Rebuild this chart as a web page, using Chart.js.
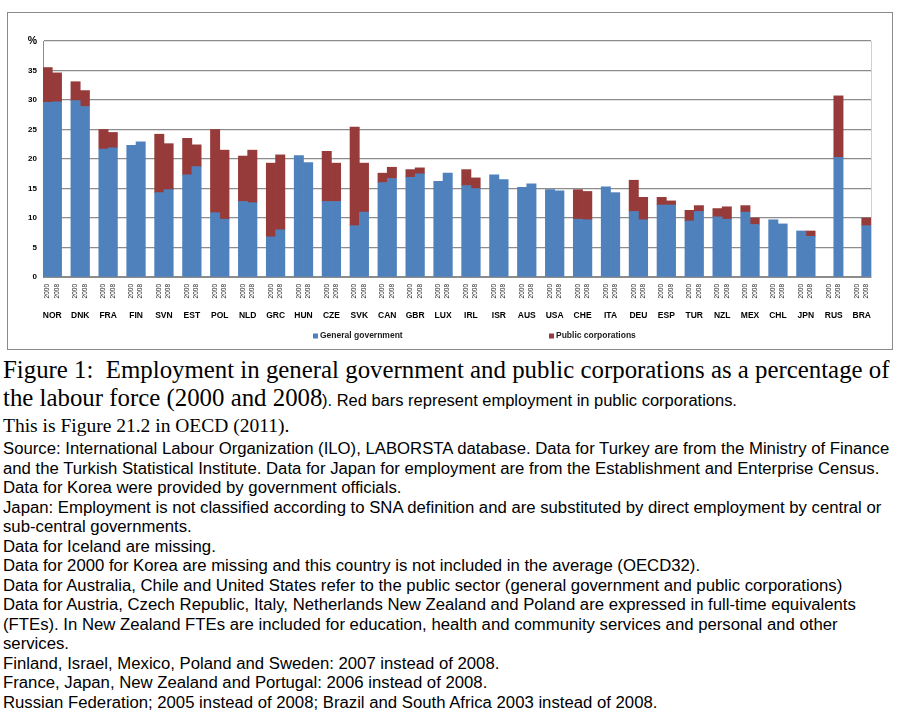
<!DOCTYPE html>
<html lang="en">
<head>
  <meta charset="UTF-8">
  <title>Employment in general government and public corporations</title>
  <script src="https://cdn.jsdelivr.net/npm/chart.js"></script>
  <style>
    body {
      margin: 0;
      background: #fff;
      width: 900px;
      height: 723px;
      position: relative;
      overflow: hidden;
    }

    .chart-box {
      position: absolute;
      left: 7px;
      top: 12px;
      width: 884px;
      height: 336px;
      border: 1px solid #8a8a8a;
    }

    .caption {
      position: absolute;
      left: 3px;
      top: 356px;
      white-space: nowrap;
      color: #000;
    }

    .serif {
      font-family: "Liberation Serif", "Times New Roman", serif;
    }

    .sans {
      font-family: "Liberation Sans", Arial, sans-serif;
    }

    .big { font-size: 24.85px; line-height: 28px; }
    .mid { font-size: 19.5px; line-height: 22px; }
    .inline-note { font-size: 16px; display: inline-block; transform: scaleX(1.03); transform-origin: left; }
    .note {
      font-size: 16px;
      line-height: 19.5px;
      margin-top: 2px;
      transform: scaleX(1.045);
      transform-origin: left top;
    }
  </style>
</head>
<body>
  <div class="chart-box">
    <canvas id="govChart"></canvas>
  </div>

  <div class="caption">
    <div class="serif big">Figure 1:&nbsp; Employment in general government and public corporations as a percentage of</div>
    <div class="serif big">the labour force (2000 and 2008<span class="sans inline-note">). Red bars represent employment in public corporations.</span></div>
    <div class="serif mid">This is Figure 21.2 in OECD (2011).</div>
    <div class="sans note">
      Source: International Labour Organization (ILO), LABORSTA database. Data for Turkey are from the Ministry of Finance<br>
      and the Turkish Statistical Institute. Data for Japan for employment are from the Establishment and Enterprise Census.<br>
      Data for Korea were provided by government officials.<br>
      Japan: Employment is not classified according to SNA definition and are substituted by direct employment by central or<br>
      sub-central governments.<br>
      Data for Iceland are missing.<br>
      Data for 2000 for Korea are missing and this country is not included in the average (OECD32).<br>
      Data for Australia, Chile and United States refer to the public sector (general government and public corporations)<br>
      Data for Austria, Czech Republic, Italy, Netherlands New Zealand and Poland are expressed in full-time equivalents<br>
      (FTEs). In New Zealand FTEs are included for education, health and community services and personal and other<br>
      services.<br>
      Finland, Israel, Mexico, Poland and Sweden: 2007 instead of 2008.<br>
      France, Japan, New Zealand and Portugal: 2006 instead of 2008.<br>
      Russian Federation; 2005 instead of 2008; Brazil and South Africa 2003 instead of 2008.
    </div>
  </div>

  <script>
    const countries = ['NOR', 'DNK', 'FRA', 'FIN', 'SVN', 'EST', 'POL', 'NLD', 'GRC', 'HUN',
      'CZE', 'SVK', 'CAN', 'GBR', 'LUX', 'IRL', 'ISR', 'AUS', 'USA', 'CHE',
      'ITA', 'DEU', 'ESP', 'TUR', 'NZL', 'MEX', 'CHL', 'JPN', 'RUS', 'BRA'];
    const years = ['2000', '2008'];

    // general government, % of labour force
    const gov2000 = [29.6, 29.9, 21.7, 22.3, 14.3, 17.3, 10.9, 12.8, 6.8, 20.6,
      12.8, 8.7, 16.0, 16.9, 16.2, 15.5, 17.3, 15.2, 14.8, 9.8,
      15.3, 11.1, 12.2, 9.5, 10.2, 11.0, 9.7, 7.8, null, null];
    const gov2008 = [29.7, 28.9, 21.9, 22.9, 14.8, 18.7, 9.8, 12.6, 8.0, 19.4,
      12.8, 11.0, 16.7, 17.5, 17.6, 15.0, 16.5, 15.8, 14.6, 9.7,
      14.3, 9.7, 12.2, 11.1, 9.8, 8.9, 9.0, 6.9, 20.3, 8.7];

    // public corporations, % of labour force
    const pc2000 = [5.9, 3.2, 3.3, null, 9.9, 6.2, 14.1, 7.7, 12.5, null,
      8.5, 16.7, 1.6, 1.3, null, 2.7, null, null, null, 5.0,
      null, 5.3, 1.3, 1.8, 1.4, 1.1, null, null, null, null];
    const pc2008 = [4.9, 2.7, 2.6, null, 7.8, 3.7, 11.7, 8.9, 12.7, null,
      6.5, 8.3, 1.9, 1.0, null, 1.8, null, null, null, 4.8,
      null, 3.8, 0.7, 1.0, 2.1, 1.1, null, 0.9, 10.4, 1.3];

    const yTicks = { min: 0, max: 40, step: 5 };

    const blue = '#4f81bd';
    const red = '#963b3a';
    const gridGray = '#8c8c8c';

    // two bars per country, then an empty slot as the gap
    function slots(a, b) {
      const out = [];
      countries.forEach((c, i) => {
        out.push(a[i], b[i]);
        if (i < countries.length - 1) out.push(null);
      });
      return out;
    }

    const labels = slots(countries.map(() => years[0]), countries.map(() => years[1]))
      .map(l => l ?? '');

    const extraText = {
      id: 'extraText',
      afterDraw(chart) {
        const { ctx, scales: { x }, chartArea } = chart;
        ctx.save();
        ctx.fillStyle = '#000';
        ctx.font = 'bold 8.5px "Liberation Sans", Arial, sans-serif';
        ctx.textAlign = 'center';
        ctx.textBaseline = 'middle';
        countries.forEach((c, i) => {
          const px = (x.getPixelForValue(i * 3) + x.getPixelForValue(i * 3 + 1)) / 2;
          ctx.fillText(c, px, chartArea.bottom + 39);
        });

        // legend
        const ly = chartArea.bottom + 59;
        const items = [
          { text: 'General government', color: blue, x: 305 },
          { text: 'Public corporations', color: red, x: 541 }
        ];
        ctx.font = 'bold 8.5px "Liberation Sans", Arial, sans-serif';
        ctx.textAlign = 'left';
        items.forEach(it => {
          ctx.fillStyle = it.color;
          ctx.fillRect(it.x, ly - 2.5, 5, 5);
          ctx.fillStyle = '#1a1a1a';
          ctx.fillText(it.text, it.x + 7, ly);
        });
        ctx.restore();
      }
    };

    window.onload = () => {
      new Chart(document.getElementById('govChart').getContext('2d'), {
        type: 'bar',
        data: {
          labels: labels,
          datasets: [
            {
              label: 'General government',
              data: slots(gov2000, gov2008),
              backgroundColor: blue,
              stack: 's'
            },
            {
              label: 'Public corporations',
              data: slots(pc2000, pc2008),
              backgroundColor: red,
              stack: 's'
            }
          ]
        },
        options: {
          responsive: true,
          maintainAspectRatio: false,
          animation: false,
          barPercentage: 1,
          categoryPercentage: 1,
          layout: { padding: { top: 28, right: 21, left: 0, bottom: 0 } },
          plugins: {
            legend: { display: false },
            tooltip: { enabled: false }
          },
          scales: {
            x: {
              stacked: true,
              grid: { display: false, drawTicks: false },
              border: { display: true, color: gridGray, width: 1 },
              ticks: {
                autoSkip: false,
                maxRotation: 90,
                minRotation: 90,
                padding: 7,
                color: '#222',
                font: { family: '"Liberation Sans", Arial, sans-serif', size: 6.5 }
              },
              afterFit(scale) { scale.height = 72; }
            },
            y: {
              stacked: true,
              min: yTicks.min,
              max: yTicks.max,
              ticks: {
                stepSize: yTicks.step,
                padding: 6,
                color: '#000',
                callback: v => v === yTicks.max ? '%' : v,
                font: ctx => ({
                  family: '"Liberation Sans", Arial, sans-serif',
                  weight: 'bold',
                  size: ctx.tick && ctx.tick.value === yTicks.max ? 10.5 : 8
                })
              },
              grid: {
                color: gridGray,
                lineWidth: 1.2,
                drawTicks: false
              },
              border: { display: true, color: gridGray, width: 1 },
              afterFit(scale) { scale.width = 35; }
            },
            y2: {
              position: 'right',
              min: yTicks.min,
              max: yTicks.max,
              ticks: { display: false },
              grid: { display: false, drawTicks: false },
              border: { display: true, color: '#d0d0d0', width: 1 },
              afterFit(scale) { scale.width = 0; }
            }
          }
        },
        plugins: [extraText]
      });
    };
  </script>
</body>
</html>
